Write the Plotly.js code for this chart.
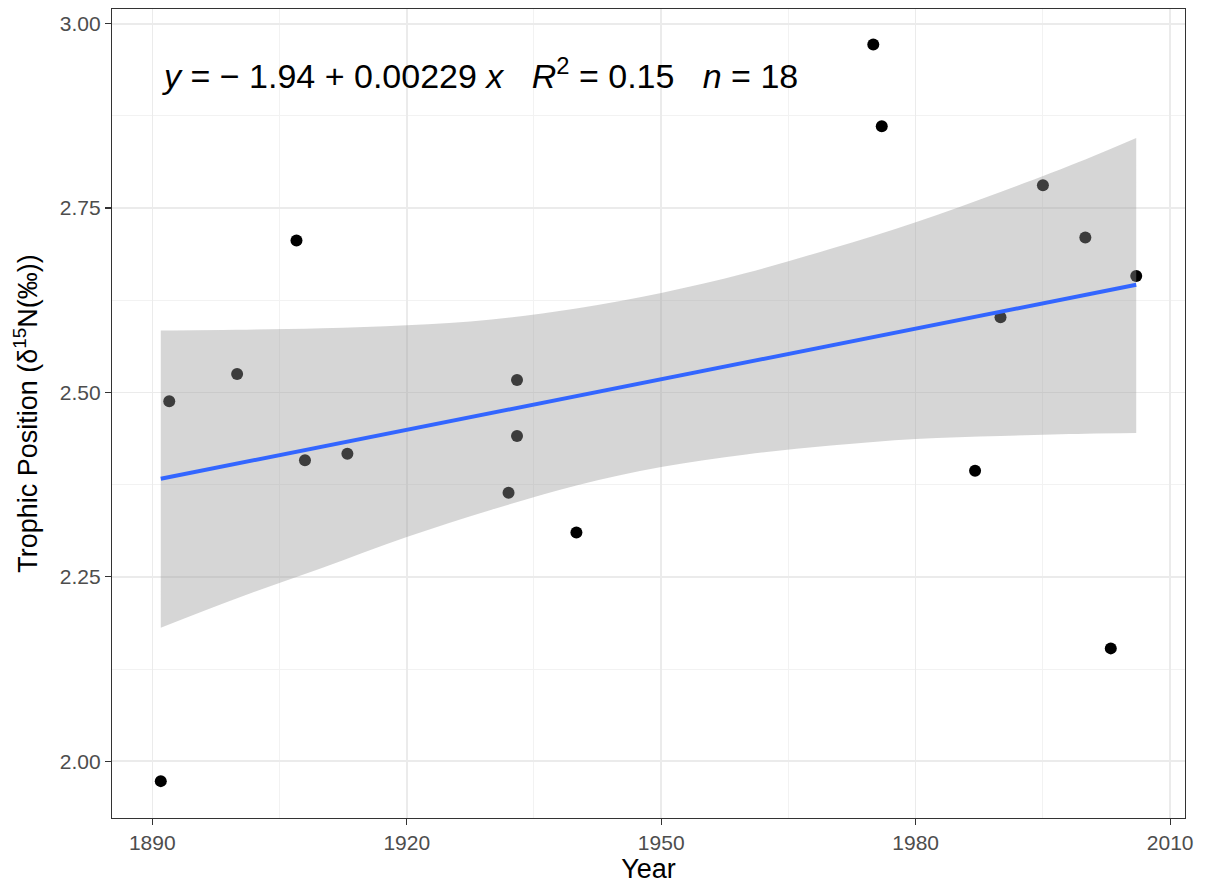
<!DOCTYPE html>
<html>
<head>
<meta charset="utf-8">
<script src="https://cdn.plot.ly/plotly-3.0.1.min.js"></script>
<style>html,body{margin:0;padding:0;background:#fff;}#chart{width:1206px;height:889px;}</style>
</head>
<body>
<div id="chart"></div>
<script>
// Observed data
const years = [1891, 1892, 1900, 1907, 1908, 1913, 1932, 1933, 1933, 1940, 1975, 1976, 1987, 1990, 1995, 2000, 2003, 2006];
const trophic = [1.973, 2.488, 2.525, 2.706, 2.408, 2.417, 2.364, 2.517, 2.441, 2.310, 2.972, 2.861, 2.394, 2.602, 2.781, 2.710, 2.153, 2.658];

// Fitted line
const fitX = [1891, 2006];
const fitY = [2.383, 2.646];

// Confidence band
const bandX = [1891, 1900, 1910, 1920, 1930, 1940, 1950, 1960, 1970, 1980, 1990, 2000, 2006];
const bandUpper = [2.584, 2.585, 2.587, 2.591, 2.599, 2.614, 2.635, 2.662, 2.695, 2.731, 2.772, 2.816, 2.845];
const bandLower = [2.181, 2.221, 2.262, 2.304, 2.341, 2.374, 2.399, 2.416, 2.428, 2.437, 2.441, 2.444, 2.445];

const xTicks = [1890, 1920, 1950, 1980, 2010];
const yTicks = [2.00, 2.25, 2.50, 2.75, 3.00];

const sp = '\u00A0';
const eqText = '<i>y</i>' + sp + '=' + sp + '\u2212' + sp + '1.94' + sp + '+' + sp + '0.00229' + sp + '<i>x</i>' + sp + sp + sp +
  '<i>R</i><sup>2</sup>' + sp + '=' + sp + '0.15' + sp + sp + sp + '<i>n</i>' + sp + '=' + sp + '18';

const traces = [
  {x: years, y: trophic, type: 'scatter', mode: 'markers',
   marker: {color: '#000000', size: 12}, hoverinfo: 'x+y', showlegend: false},
  {x: bandX, y: bandLower, type: 'scatter', mode: 'lines',
   line: {width: 0, shape: 'spline'}, showlegend: false, hoverinfo: 'skip'},
  {x: bandX, y: bandUpper, type: 'scatter', mode: 'lines', fill: 'tonexty',
   fillcolor: 'rgba(153,153,153,0.4)',
   line: {width: 0, shape: 'spline'}, showlegend: false, hoverinfo: 'skip'},
  {x: fitX, y: fitY, type: 'scatter', mode: 'lines',
   line: {color: '#3366FF', width: 4}, showlegend: false}
];

const fam = 'Liberation Sans, Arial, sans-serif';
const axisCommon = {
  showline: true, mirror: true, linecolor: '#333333', linewidth: 1.2,
  ticks: 'outside', ticklen: 6, tickwidth: 1.3, tickcolor: '#333333',
  gridcolor: '#EBEBEB', gridwidth: 1.5, zeroline: false,
  tickfont: {family: fam, size: 21, color: '#4D4D4D'}
};

const layout = {
  width: 1206, height: 889,
  paper_bgcolor: '#FFFFFF', plot_bgcolor: '#FFFFFF',
  margin: {l: 112, r: 21, t: 9, b: 71},
  showlegend: false,
  xaxis: Object.assign({}, axisCommon, {
    range: [1885.25, 2011.75], tickvals: xTicks, ticktext: xTicks.map(String),
    minor: {tickvals: [1905, 1935, 1965, 1995], showgrid: true, gridcolor: '#F2F2F2', gridwidth: 1, ticks: ''},
    title: {text: 'Year', standoff: 4, font: {family: fam, size: 27, color: '#000000'}}
  }),
  yaxis: Object.assign({}, axisCommon, {
    range: [1.923, 3.020], tickvals: yTicks, ticktext: yTicks.map(v => v.toFixed(2)),
    minor: {tickvals: [2.125, 2.375, 2.625, 2.875], showgrid: true, gridcolor: '#F2F2F2', gridwidth: 1, ticks: ''},
    title: {text: 'Trophic Position (\u03B4<sup>15</sup>N(\u2030))', standoff: 14, font: {family: fam, size: 27, color: '#000000'}}
  }),
  annotations: [{
    x: 1890.9, y: 2.932, xref: 'x', yref: 'y', xanchor: 'left', yanchor: 'middle',
    text: eqText, showarrow: false,
    font: {family: fam, size: 34, color: '#000000'}
  }]
};

Plotly.newPlot('chart', traces, layout, {displayModeBar: false, staticPlot: true});
</script>
</body>
</html>
